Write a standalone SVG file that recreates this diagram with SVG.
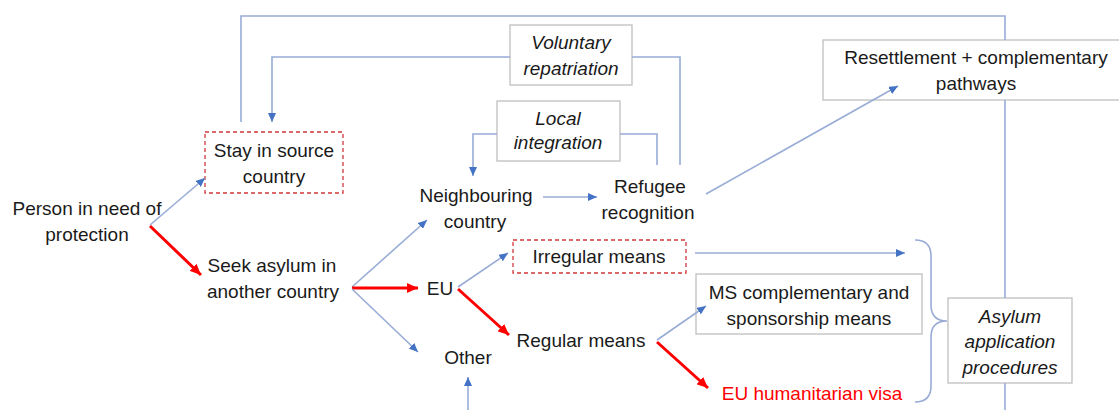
<svg xmlns="http://www.w3.org/2000/svg" width="1119" height="410" viewBox="0 0 1119 410">
<defs>
<marker id="ab" markerUnits="userSpaceOnUse" markerWidth="10" markerHeight="8" refX="9" refY="4" orient="auto"><path d="M0,0 L9,4 L0,8 Z" fill="#4472C4"/></marker>
<marker id="ar" markerUnits="userSpaceOnUse" markerWidth="12" markerHeight="10" refX="11" refY="5" orient="auto"><path d="M0,0 L11,5 L0,10 Z" fill="#FF0000"/></marker>
<style>
text{font-family:"Liberation Sans",Arial,sans-serif;font-size:19px;fill:#1a1a1a;text-anchor:middle}
.it{font-style:italic}
.red{fill:#FF0000}
.box{fill:#fff;stroke:#BFBFBF;stroke-width:1.3}
.dbox{fill:#fff;stroke:#D0393B;stroke-width:1.3;stroke-dasharray:4 3}
.bl{fill:none;stroke:#98ACD6;stroke-width:1.6}
.ba{fill:none;stroke:#98ACD6;stroke-width:1.6;marker-end:url(#ab)}
.ra{fill:none;stroke:#FF0000;stroke-width:3;marker-end:url(#ar)}
</style>
</defs>
<rect width="1119" height="410" fill="#fff"/>
<g id="voluntary-repatriation"><rect class="box" x="510" y="25" width="122" height="60"/><text class="it" x="571" y="49">Voluntary</text><text class="it" x="571" y="75">repatriation</text></g>
<g id="local-integration"><rect class="box" x="497" y="101" width="123" height="60"/><text class="it" x="558" y="125">Local</text><text class="it" x="558" y="149">integration</text></g>
<g id="stay-in-source"><rect class="dbox" x="205" y="132" width="138" height="61"/><text x="274" y="157">Stay in source</text><text x="274" y="183">country</text></g>
<g id="resettlement"><rect class="box" x="823" y="40" width="300" height="60"/><text x="976" y="64">Resettlement + complementary</text><text x="976" y="90">pathways</text></g>
<g id="neighbouring"><text x="476" y="202">Neighbouring</text><text x="475" y="228">country</text></g>
<g id="refugee"><text x="650" y="193">Refugee</text><text x="648" y="219">recognition</text></g>
<g id="person"><text x="87" y="215">Person in need of</text><text x="87" y="241">protection</text></g>
<g id="seek-asylum"><text x="272" y="272">Seek asylum in</text><text x="273" y="298">another country</text></g>
<g id="eu"><text x="440" y="295">EU</text></g>
<g id="irregular"><rect class="dbox" x="513" y="240" width="173" height="33"/><text x="599" y="263">Irregular means</text></g>
<g id="regular"><text x="581" y="347">Regular means</text></g>
<g id="other"><text x="468" y="364">Other</text></g>
<g id="ms-complementary"><rect class="box" x="696" y="274" width="226" height="60"/><text x="809" y="299">MS complementary and</text><text x="809" y="325">sponsorship means</text></g>
<g id="eu-visa"><text class="red" x="812" y="400">EU humanitarian visa</text></g>
<g id="asylum-procedures"><rect class="box" x="948" y="298" width="124" height="85"/><text class="it" x="1010" y="323">Asylum</text><text class="it" x="1010" y="348">application</text><text class="it" x="1010" y="374">procedures</text></g>
<g id="connectors">
<polyline class="bl" points="241,122 241,16 1005,16 1005,40"/>
<line class="bl" x1="1005" y1="100" x2="1005" y2="298"/>
<line class="bl" x1="1005" y1="383" x2="1005" y2="410"/>
<polyline class="ba" points="510,57 272,57 272,122"/>
<polyline class="bl" points="632,57 680,57 680,165"/>
<polyline class="ba" points="497,134 473,134 473,176"/>
<polyline class="bl" points="620,134 657,134 657,165"/>
<line class="ba" x1="543" y1="197" x2="597" y2="197"/>
<line class="ba" x1="706" y1="194" x2="898" y2="86"/>
<line class="ba" x1="150" y1="225" x2="205" y2="178"/>
<line class="ra" x1="150" y1="226" x2="201" y2="275"/>
<line class="ba" x1="352" y1="287" x2="427" y2="220"/>
<line class="ra" x1="352" y1="288" x2="418" y2="288"/>
<line class="ba" x1="352" y1="289" x2="418" y2="352"/>
<line class="ba" x1="458" y1="287" x2="508" y2="253"/>
<line class="ra" x1="458" y1="289" x2="509" y2="335"/>
<line class="ba" x1="695" y1="253" x2="905" y2="253"/>
<line class="ba" x1="657" y1="340" x2="706" y2="306"/>
<line class="ra" x1="657" y1="342" x2="708" y2="388"/>
<line class="ba" x1="468" y1="410" x2="468" y2="377"/>
<path class="bl" d="M915,240 Q931,240 931,256 L931,305 Q931,321 947,321 Q931,321 931,337 L931,386 Q931,402 915,402"/>
</g>
</svg>
